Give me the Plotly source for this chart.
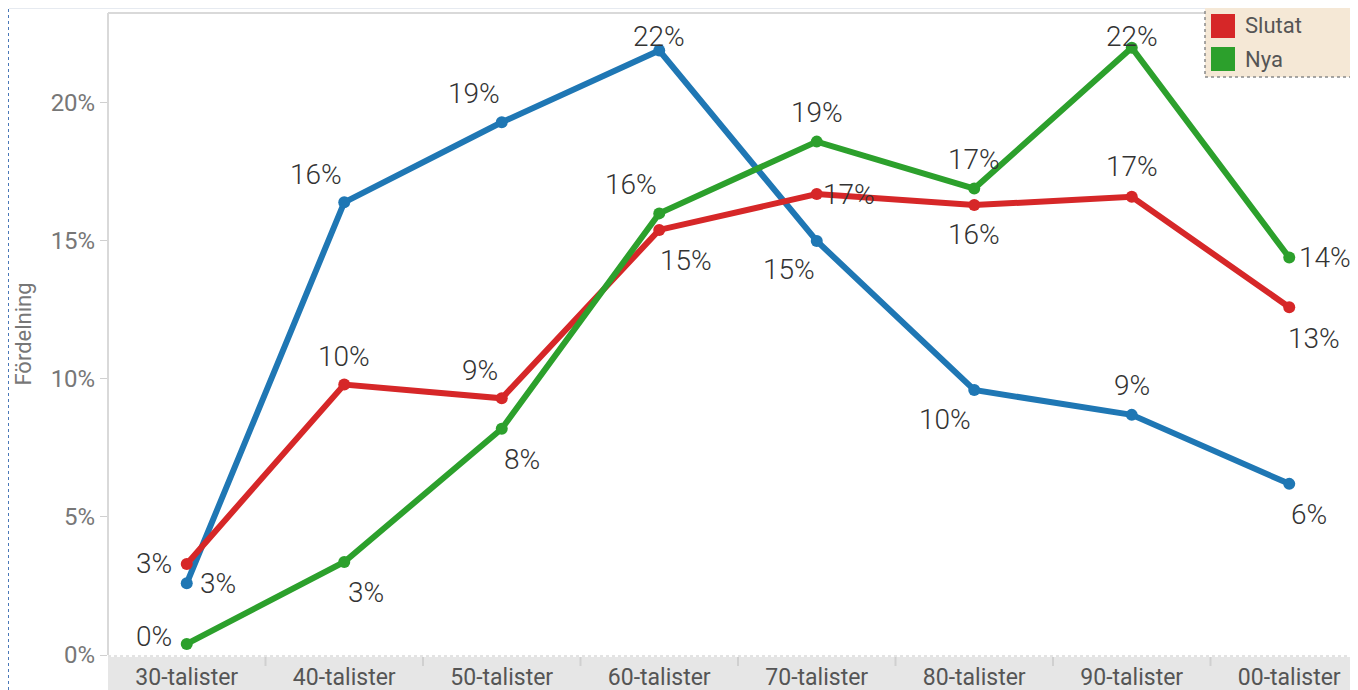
import plotly.graph_objects as go

categories = ["30-talister", "40-talister", "50-talister", "60-talister",
              "70-talister", "80-talister", "90-talister", "00-talister"]
series_names = ["Kvar", "Slutat", "Nya"]
kvar = [2.6, 16.4, 19.3, 21.9, 15.0, 9.6, 8.7, 6.2]
slutat = [3.3, 9.8, 9.3, 15.4, 16.7, 16.3, 16.6, 12.6]
nya = [0.4, 3.37, 8.2, 16.0, 18.6, 16.9, 22.0, 14.4]
series_values = [kvar, slutat, nya]
colors = ["#1f77b4", "#d62728", "#2ca02c"]
y_ticks = [0, 5, 10, 15, 20]

# label offsets in pixels (dx, dy up-positive) per series, per category
offsets = [
    [(31, 0), (-28, 28), (-28, 29), (0, 14), (-28, -29), (-29, -29), (0, 29), (20, -31)],
    [(-33, 0), (0, 28), (-22, 28), (27, -31), (32, 0), (0, -29), (0, 30), (25, -31)],
    [(-33, 7), (22, -31), (20, -31), (-28, 29), (0, 29), (0, 29), (0, 11), (36, 0)],
]

# page body has an 8px margin: work in reference-window pixels, shifted by OFF
OFF = 8
W, H = 1358 - OFF, 690 - OFF
L, R, T, B = 108 - OFF, 0, 13 - OFF, 690 - 655
PW, PH = W - L - R, H - T - B


def px_x(p):
    return (p - OFF - L) / PW


def px_y(p):
    return (H + OFF - B - p) / PH


fig = go.Figure()
annotations = []
for name, vals, col, offs in zip(series_names, series_values, colors, offsets):
    fig.add_trace(go.Scatter(
        x=categories, y=vals, mode="lines+markers", name=name,
        line=dict(color=col, width=6), marker=dict(color=col, size=12),
        cliponaxis=False, showlegend=False,
    ))
    for c, v, (dx, dy) in zip(categories, vals, offs):
        annotations.append(dict(
            x=c, y=v, xref="x", yref="y", text=f"{int(v + 0.5)}%",
            showarrow=False, xshift=dx, yshift=dy,
            font=dict(family="Roboto", size=28, color="#333333", weight=300),
        ))

shapes = []
# left dotted blue line
shapes.append(dict(type="line", xref="paper", yref="paper", x0=px_x(8.5), x1=px_x(8.5),
                   y0=px_y(690), y1=px_y(0), line=dict(color="#4a78b8", width=1, dash="dot")))
# title band remnant
shapes.append(dict(type="rect", xref="paper", yref="paper", x0=px_x(9), x1=px_x(1205),
                   y0=px_y(9), y1=px_y(0), fillcolor="#e6eaf0", line=dict(width=0), layer="below"))
# plot frame
shapes.append(dict(type="line", xref="paper", yref="paper", x0=0, x1=1, y0=1, y1=1,
                   line=dict(color="#d9d9d9", width=2), layer="below"))
shapes.append(dict(type="line", xref="paper", yref="paper", x0=0, x1=0, y0=0, y1=1,
                   line=dict(color="#d9d9d9", width=2), layer="below"))
# x label band
shapes.append(dict(type="rect", xref="paper", yref="paper", x0=0, x1=1,
                   y0=px_y(690), y1=px_y(657), fillcolor="#e6e6e6", line=dict(width=0), layer="below"))
shapes.append(dict(type="line", xref="paper", yref="paper", x0=0, x1=1, y0=px_y(656), y1=px_y(656),
                   line=dict(color="#c8c8c8", width=1, dash="dot")))
for i in range(len(categories) - 1):
    shapes.append(dict(type="line", xref="x", yref="paper", x0=i + 0.5, x1=i + 0.5,
                       y0=px_y(657), y1=px_y(666), line=dict(color="#d0d0d0", width=2)))

# manual legend (partly cut off at top)
shapes.append(dict(type="rect", xref="paper", yref="paper", x0=px_x(1205), x1=px_x(1370),
                   y0=px_y(77), y1=px_y(-10), fillcolor="#f5e8d6",
                   line=dict(color="#8a8a8a", width=1.5, dash="dot")))
leg_centers = [-7, 26, 59]
for name, col, cy in zip(series_names, colors, leg_centers):
    shapes.append(dict(type="rect", xref="paper", yref="paper", x0=px_x(1211), x1=px_x(1235),
                       y0=px_y(cy + 12), y1=px_y(cy - 12), fillcolor=col, line=dict(width=0)))
    annotations.append(dict(x=px_x(1243), y=px_y(cy), xref="paper", yref="paper", text=name,
                            showarrow=False, xanchor="left", yanchor="middle",
                            font=dict(family="Roboto", size=22, color="#555555")))

fig.update_layout(
    width=W, height=H,
    margin=dict(l=L, r=R, t=T, b=B, autoexpand=False),
    paper_bgcolor="white", plot_bgcolor="white",
    showlegend=False,
    shapes=shapes, annotations=annotations,
    xaxis=dict(
        type="category", range=[-0.5, 7.5 - 10 / 157.5],
        showgrid=False, zeroline=False, showline=False, ticks="",
        ticklabelstandoff=6, automargin=False,
        tickfont=dict(family="Roboto", size=23, color="#555555"),
    ),
    yaxis=dict(
        range=[0, 23.26], tickvals=y_ticks, ticktext=[f"{v}%" for v in y_ticks],
        showgrid=False, zeroline=False, showline=False, automargin=False,
        ticks="outside", ticklen=7, tickcolor="#d0d0d0", tickwidth=1,
        tickfont=dict(family="Roboto", size=24, color="#777777"),
        title=dict(text="Fördelning", font=dict(family="Roboto", size=22, color="#777777"), standoff=12),
    ),
)

fig.write_html("out.html")
